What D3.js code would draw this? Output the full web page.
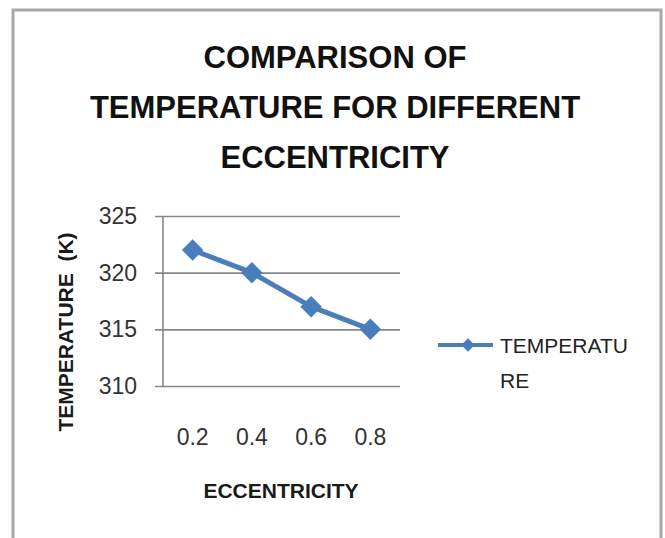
<!DOCTYPE html>
<html>
<head>
<meta charset="utf-8">
<script src="https://cdn.jsdelivr.net/npm/d3@7"></script>
<style>
  body { margin: 0; background: #fff; }
  svg { display: block; font-family: "Liberation Sans", Arial, sans-serif; }
</style>
</head>
<body>
<svg width="665" height="538"></svg>
<script>
var eccentricity = ['0.2', '0.4', '0.6', '0.8'];
var temperature = [322, 320, 317, 315];
var yTicks = [310, 315, 320, 325];
var titleLines = ['COMPARISON OF', 'TEMPERATURE FOR DIFFERENT', 'ECCENTRICITY'];
var seriesName = ['TEMPERATU', 'RE'];

var plot = { left: 163, right: 400, top: 216, bottom: 386 };
var blue = "#4a7ebb";

var svg = d3.select("svg");

// outer frame (no bottom edge visible)
svg.append("path")
  .attr("d", "M13,560V10H661V560")
  .attr("fill", "none")
  .attr("stroke", "#a8a8a8")
  .attr("stroke-width", 3);

// title
svg.append("g").selectAll("text")
  .data(titleLines)
  .enter().append("text")
  .attr("x", 335)
  .attr("y", function(d, i) { return 68 + i * 50; })
  .attr("text-anchor", "middle")
  .style("font-size", "31px")
  .style("font-weight", "bold")
  .style("fill", "#111")
  .text(function(d) { return d; });

var x = d3.scaleBand().domain(eccentricity).range([plot.left, plot.right]);
var y = d3.scaleLinear().domain([310, 325]).range([plot.bottom, plot.top]);

// gridlines with small outward ticks
var grid = svg.append("g")
  .attr("transform", "translate(" + (plot.left - 8) + ",0)")
  .call(d3.axisRight(y).tickValues(yTicks).tickSize(plot.right - plot.left + 8).tickFormat(""));
grid.select(".domain").remove();
grid.selectAll("line").attr("stroke", "#878787").attr("stroke-width", 1.6);

// y axis line
svg.append("line")
  .attr("x1", plot.left).attr("x2", plot.left)
  .attr("y1", plot.top).attr("y2", plot.bottom)
  .attr("stroke", "#878787")
  .attr("stroke-width", 1.6);

// y tick labels
var yAxis = svg.append("g")
  .attr("transform", "translate(" + plot.left + ",0)")
  .call(d3.axisLeft(y).tickValues(yTicks).tickSize(0).tickPadding(26));
yAxis.select(".domain").remove();
yAxis.selectAll("text")
  .style("font-size", "23px")
  .style("font-family", "'Liberation Sans', Arial, sans-serif")
  .style("fill", "#333");

// x tick labels
var xAxis = svg.append("g")
  .attr("transform", "translate(0," + plot.bottom + ")")
  .call(d3.axisBottom(x).tickSize(0).tickPadding(43));
xAxis.select(".domain").remove();
xAxis.selectAll("text")
  .style("font-size", "23px")
  .style("font-family", "'Liberation Sans', Arial, sans-serif")
  .style("fill", "#333");

// axis titles
svg.append("text")
  .attr("x", 281)
  .attr("y", 498)
  .attr("text-anchor", "middle")
  .style("font-size", "21px")
  .style("font-weight", "bold")
  .style("fill", "#1a1a1a")
  .text("ECCENTRICITY");

svg.append("text")
  .attr("transform", "translate(73,332) rotate(-90)")
  .attr("text-anchor", "middle")
  .style("font-size", "21px")
  .style("font-weight", "bold")
  .style("fill", "#1a1a1a")
  .style("white-space", "pre")
  .text("TEMPERATURE  (K)");

// series
var data = eccentricity.map(function(e, i) { return { e: e, t: temperature[i] }; });

var line = d3.line()
  .x(function(d) { return x(d.e) + x.bandwidth() / 2; })
  .y(function(d) { return y(d.t); });

svg.append("path")
  .datum(data)
  .attr("d", line)
  .attr("fill", "none")
  .attr("stroke", blue)
  .attr("stroke-width", 5)
  .attr("stroke-linejoin", "round");

var diamond = d3.symbol().type(d3.symbolSquare).size(230);

svg.selectAll(".marker")
  .data(data)
  .enter().append("path")
  .attr("class", "marker")
  .attr("d", diamond)
  .attr("transform", function(d) {
    return "translate(" + (x(d.e) + x.bandwidth() / 2) + "," + y(d.t) + ") rotate(45)";
  })
  .attr("fill", blue);

// legend
var legend = svg.append("g");
legend.append("line")
  .attr("x1", 438).attr("x2", 493)
  .attr("y1", 345).attr("y2", 345)
  .attr("stroke", blue)
  .attr("stroke-width", 4);
legend.append("path")
  .attr("d", d3.symbol().type(d3.symbolSquare).size(90))
  .attr("transform", "translate(468,345) rotate(45)")
  .attr("fill", blue);
legend.selectAll("text")
  .data(seriesName)
  .enter().append("text")
  .attr("x", 500)
  .attr("y", function(d, i) { return 353 + i * 35; })
  .style("font-size", "21px")
  .style("fill", "#222")
  .text(function(d) { return d; });
</script>
</body>
</html>
